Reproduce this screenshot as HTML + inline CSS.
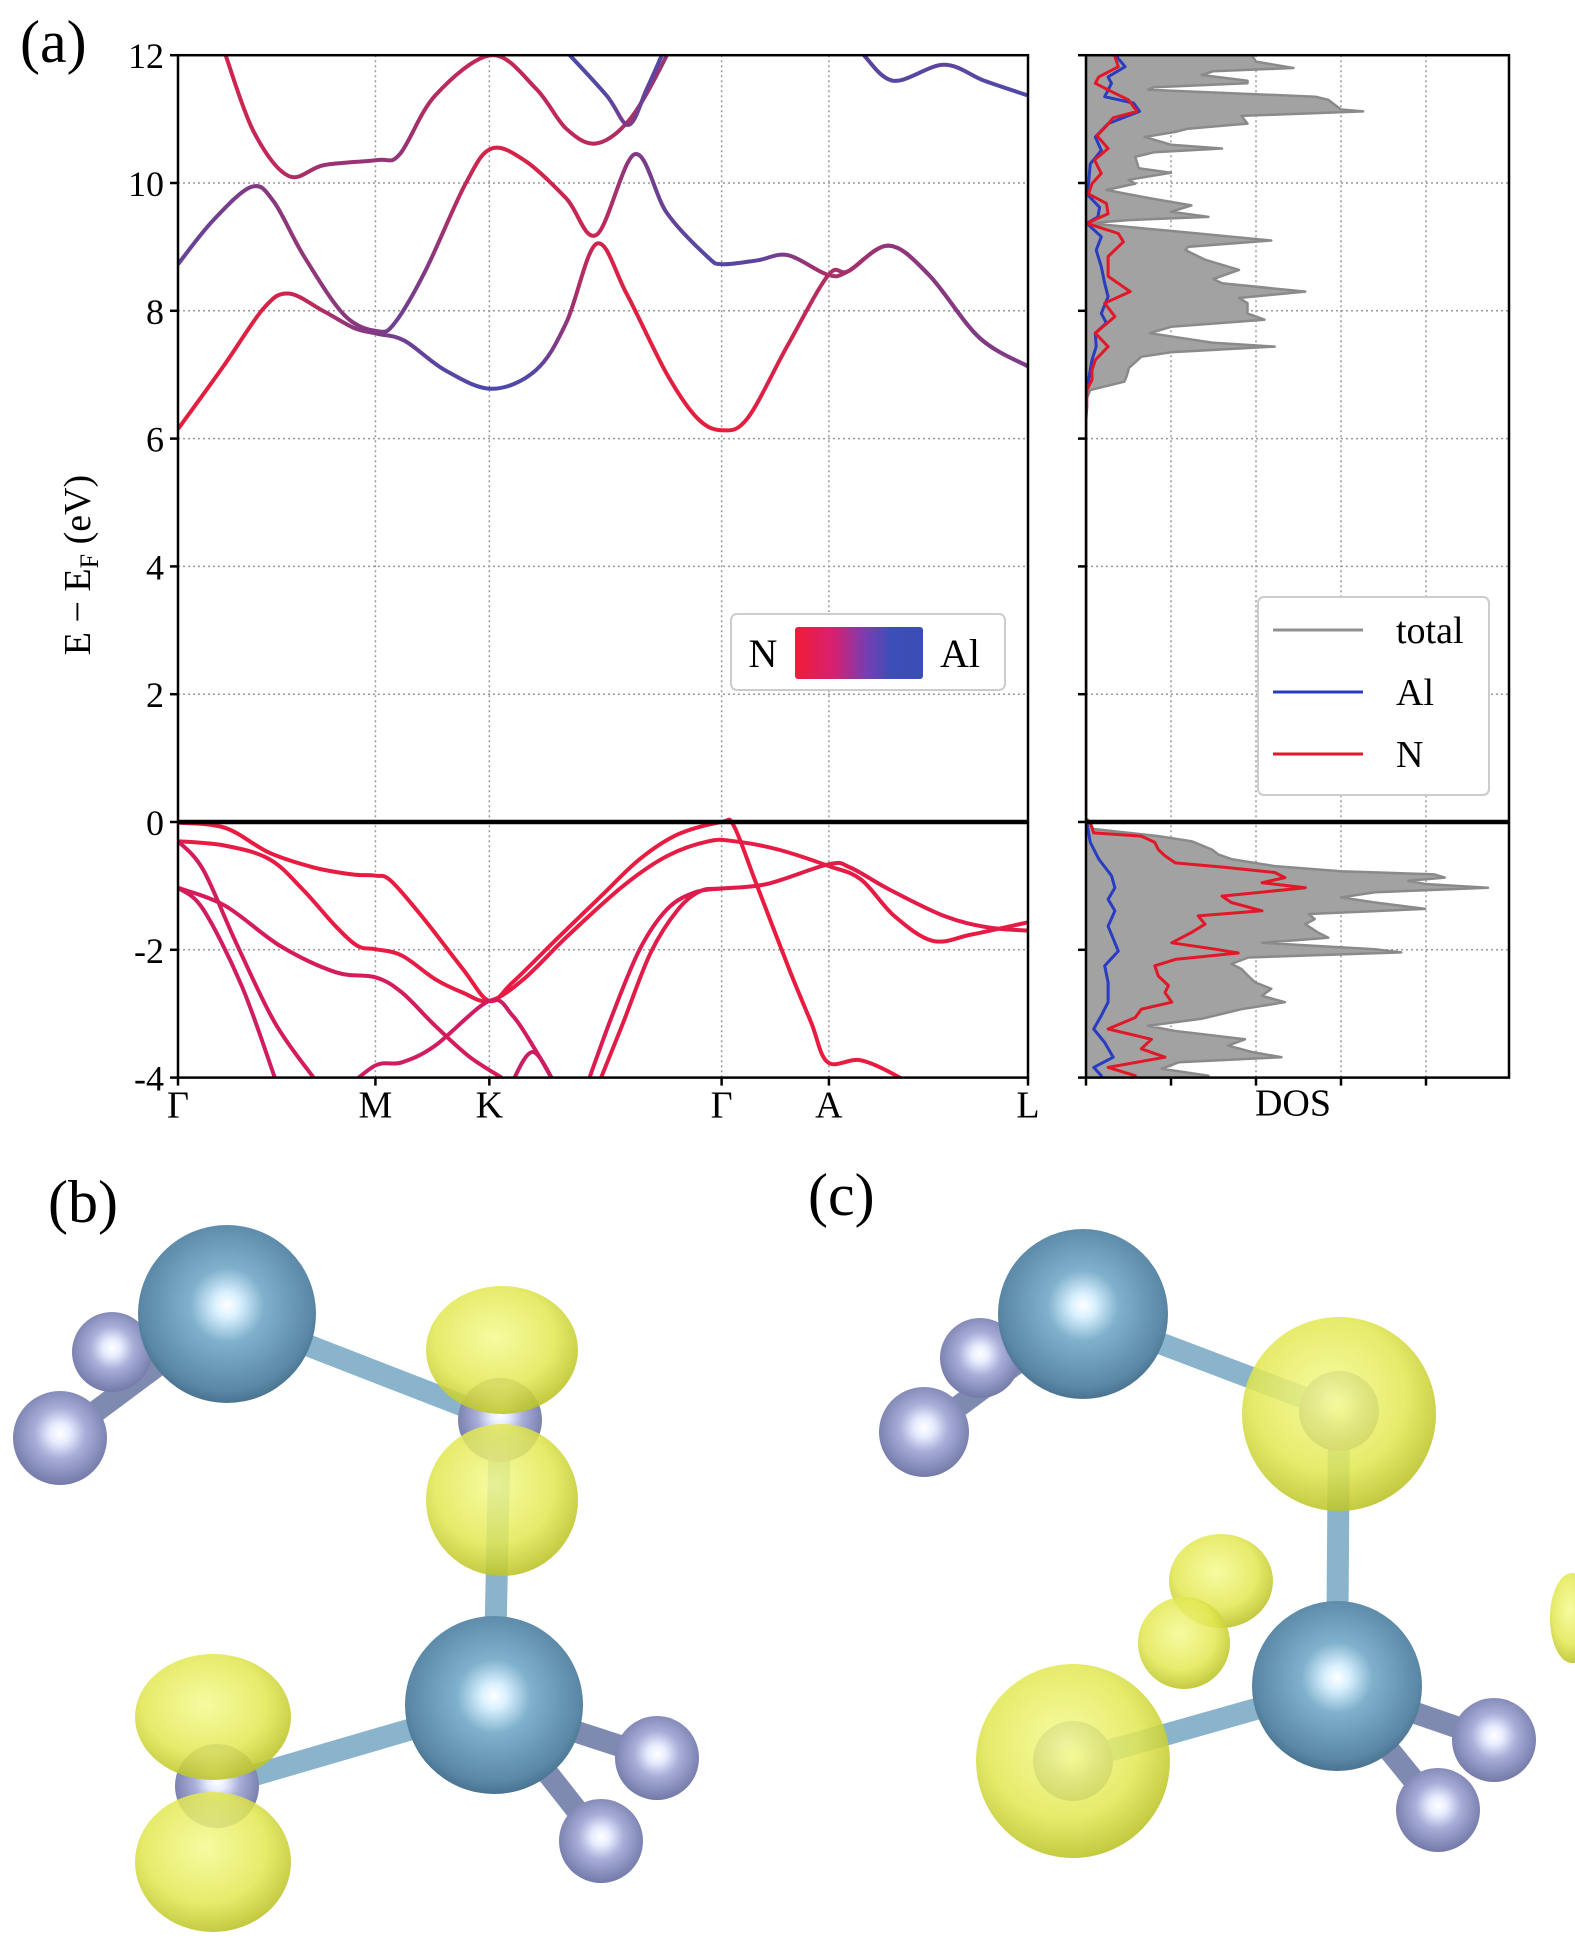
<!DOCTYPE html>
<html><head><meta charset="utf-8"><style>
html,body{margin:0;padding:0;background:#fff;}
svg{display:block;font-family:"Liberation Serif",serif;}
</style></head><body>
<svg id="fig" width="1575" height="1948" viewBox="0 0 1575 1948" xmlns="http://www.w3.org/2000/svg">
<defs>
 <linearGradient id="legGrad" x1="0" x2="1" y1="0" y2="0">
  <stop offset="0" stop-color="#f01c38"/><stop offset="0.3" stop-color="#d82070"/><stop offset="0.55" stop-color="#7a3cb0"/><stop offset="0.75" stop-color="#3d4fb8"/><stop offset="1" stop-color="#3a4db4"/>
 </linearGradient>
 <clipPath id="bandClip"><rect x="178" y="55" width="850" height="1023"/></clipPath>
 <clipPath id="dosClip"><rect x="1086" y="55" width="423" height="1023"/></clipPath>
 <radialGradient id="alG" cx="0.5" cy="0.45" r="0.6">
  <stop offset="0" stop-color="#ffffff"/><stop offset="0.12" stop-color="#d8f0ff"/><stop offset="0.35" stop-color="#7fb0cc"/><stop offset="0.8" stop-color="#5a88a6"/><stop offset="1" stop-color="#3e6480"/>
 </radialGradient>
 <radialGradient id="nG" cx="0.5" cy="0.45" r="0.6">
  <stop offset="0" stop-color="#ffffff"/><stop offset="0.18" stop-color="#e8ecff"/><stop offset="0.45" stop-color="#a8aed8"/><stop offset="1" stop-color="#6a70a0"/>
 </radialGradient>
 <radialGradient id="yG" cx="0.45" cy="0.4" r="0.65">
  <stop offset="0" stop-color="#f6fa90" stop-opacity="0.85"/><stop offset="0.6" stop-color="#e2e852" stop-opacity="0.85"/><stop offset="1" stop-color="#b4bc20" stop-opacity="0.9"/>
 </radialGradient>
 <linearGradient id="bondG" x1="0" x2="0" y1="0" y2="1">
  <stop offset="0" stop-color="#5a8aa8"/><stop offset="0.45" stop-color="#b8d8ec"/><stop offset="1" stop-color="#5a8aa8"/>
 </linearGradient>
</defs>

<rect width="1575" height="1948" fill="#fff"/>
<text x="20" y="62" font-size="60">(a)</text>

<g id="bandGrid"></g>
<g id="bands" clip-path="url(#bandClip)"></g>
<g id="bandAxes"></g>
<g id="dos"></g>

<text transform="translate(90,565) rotate(-90)" text-anchor="middle" font-size="38">E − E<tspan font-size="26" dy="8">F</tspan><tspan dy="-8"> (eV)</tspan></text>

<g>
 <rect x="731" y="614" width="274" height="76" rx="6" fill="#fff" stroke="#ccc" stroke-width="2"/>
 <text x="763" y="667" font-size="40" text-anchor="middle">N</text>
 <rect x="795" y="627" width="128" height="52" rx="3" fill="url(#legGrad)"/>
 <text x="960" y="667" font-size="40" text-anchor="middle">Al</text>
</g>
<g>
 <rect x="1258" y="597" width="231" height="198" rx="6" fill="#fff" stroke="#ccc" stroke-width="2"/>
 <line x1="1273" x2="1363" y1="630" y2="630" stroke="#909090" stroke-width="3"/>
 <text x="1396" y="643" font-size="38">total</text>
 <line x1="1273" x2="1363" y1="692" y2="692" stroke="#2a3cc0" stroke-width="3"/>
 <text x="1396" y="705" font-size="38">Al</text>
 <line x1="1273" x2="1363" y1="754" y2="754" stroke="#e01828" stroke-width="3"/>
 <text x="1396" y="767" font-size="38">N</text>
</g>

<text x="48" y="1222" font-size="60">(b)</text>
<text x="808" y="1215" font-size="60">(c)</text>

<g>
 <line x1="227" y1="1228" x2="227" y2="1300" stroke="url(#bondG)" stroke-width="22"/>
 <line x1="227" y1="1314" x2="112" y2="1352" stroke="#7f8ab0" stroke-width="22"/>
 <line x1="227" y1="1314" x2="60" y2="1438" stroke="#7f8ab0" stroke-width="22"/>
 <circle cx="112" cy="1352" r="40" fill="url(#nG)"/>
 <line x1="227" y1="1314" x2="500" y2="1420" stroke="#8ab4cc" stroke-width="22"/>
 <line x1="500" y1="1420" x2="494" y2="1705" stroke="#8ab4cc" stroke-width="22"/>
 <line x1="494" y1="1705" x2="217" y2="1786" stroke="#8ab4cc" stroke-width="22"/>
 <line x1="494" y1="1705" x2="657" y2="1758" stroke="#7f8ab0" stroke-width="22"/>
 <line x1="494" y1="1705" x2="601" y2="1841" stroke="#7f8ab0" stroke-width="22"/>
 <circle cx="227" cy="1314" r="89" fill="url(#alG)"/>
 <circle cx="60" cy="1438" r="47" fill="url(#nG)"/>
 <circle cx="494" cy="1705" r="89" fill="url(#alG)"/>
 <circle cx="657" cy="1758" r="42" fill="url(#nG)"/>
 <circle cx="601" cy="1841" r="42" fill="url(#nG)"/>
 <circle cx="500" cy="1420" r="42" fill="url(#nG)"/>
 <circle cx="217" cy="1786" r="42" fill="url(#nG)"/>
 <ellipse cx="502" cy="1350" rx="76" ry="64" fill="url(#yG)"/>
 <ellipse cx="502" cy="1500" rx="76" ry="76" fill="url(#yG)"/>
 <ellipse cx="213" cy="1717" rx="78" ry="63" fill="url(#yG)"/>
 <ellipse cx="213" cy="1862" rx="78" ry="70" fill="url(#yG)"/>
</g>

<g>
 <line x1="1083" y1="1228" x2="1083" y2="1300" stroke="url(#bondG)" stroke-width="22"/>
 <line x1="1083" y1="1314" x2="980" y2="1358" stroke="#7f8ab0" stroke-width="22"/>
 <line x1="1083" y1="1314" x2="924" y2="1432" stroke="#7f8ab0" stroke-width="22"/>
 <circle cx="980" cy="1358" r="40" fill="url(#nG)"/>
 <line x1="1083" y1="1314" x2="1339" y2="1411" stroke="#8ab4cc" stroke-width="22"/>
 <line x1="1339" y1="1411" x2="1337" y2="1686" stroke="#8ab4cc" stroke-width="22"/>
 <line x1="1337" y1="1686" x2="1073" y2="1761" stroke="#8ab4cc" stroke-width="22"/>
 <line x1="1337" y1="1686" x2="1494" y2="1740" stroke="#7f8ab0" stroke-width="22"/>
 <line x1="1337" y1="1686" x2="1438" y2="1810" stroke="#7f8ab0" stroke-width="22"/>
 <circle cx="1083" cy="1314" r="85" fill="url(#alG)"/>
 <circle cx="924" cy="1432" r="45" fill="url(#nG)"/>
 <circle cx="1339" cy="1411" r="40" fill="url(#nG)"/>
 <circle cx="1073" cy="1761" r="40" fill="url(#nG)"/>
 <ellipse cx="1221" cy="1581" rx="52" ry="47" fill="url(#yG)"/>
 <ellipse cx="1184" cy="1643" rx="46" ry="46" fill="url(#yG)"/>
 <circle cx="1337" cy="1686" r="85" fill="url(#alG)"/>
 <circle cx="1494" cy="1740" r="42" fill="url(#nG)"/>
 <circle cx="1438" cy="1810" r="42" fill="url(#nG)"/>
 <circle cx="1339" cy="1414" r="97" fill="url(#yG)"/>
 <circle cx="1073" cy="1761" r="97" fill="url(#yG)"/>
 <ellipse cx="1572" cy="1618" rx="22" ry="45" fill="url(#yG)"/>
</g>

<script>
// ---- Band structure data (k in path units, E in eV, w = Al weight 0..1) ----
const kTickPos = [0, 357, 563, 983, 1177, 1537];
const kTickLabels = ["Γ", "M", "K", "Γ", "A", "L"];
const eTicks = [-4, -2, 0, 2, 4, 6, 8, 10, 12];
const eTickLabels = ["-4", "-2", "0", "2", "4", "6", "8", "10", "12"];

const band1K = [0,82,155,200,264,319,361,410,483,567,647,702,757,811,884,939,984,1030,1103,1176,1212,1285,1358,1449,1537];
const band1E = [6.15,7.13,8.04,8.27,7.99,7.73,7.64,7.53,7.07,6.78,7.07,7.81,9.05,8.27,7.01,6.32,6.13,6.32,7.47,8.56,8.62,9.02,8.56,7.58,7.13];
const band1W = [0.05,0.05,0.1,0.15,0.35,0.55,0.6,0.7,0.85,0.9,0.85,0.5,0.15,0.08,0.05,0.03,0.02,0.05,0.15,0.35,0.4,0.5,0.55,0.6,0.62];
const band2K = [0,64,133,173,228,301,361,392,447,520,567,629,702,757,826,884,957,984,1048,1103,1176,1212,1285,1358,1449,1537];
const band2E = [8.73,9.42,9.94,9.71,8.85,7.93,7.68,7.81,8.62,9.99,10.54,10.34,9.76,9.19,10.45,9.53,8.85,8.73,8.79,8.87,8.56,8.62,9.02,8.56,7.58,7.13];
const band2W = [0.75,0.7,0.6,0.55,0.5,0.55,0.6,0.7,0.6,0.25,0.1,0.12,0.2,0.2,0.6,0.75,0.85,0.85,0.8,0.6,0.35,0.4,0.5,0.55,0.6,0.62];
const band3K = [86,137,200,264,361,401,465,567,647,702,757,820,884,902];
const band3E = [12.0,10.8,10.11,10.28,10.36,10.45,11.37,12.0,11.48,10.85,10.62,11.03,12.0,12.4];
const band3W = [0.15,0.2,0.3,0.45,0.5,0.5,0.3,0.2,0.25,0.25,0.3,0.35,0.5,0.5];
const band4K = [702,775,815,848,875];
const band4E = [12.06,11.37,10.91,11.48,12.0];
const band4W = [0.9,0.85,0.6,0.8,0.85];
const band5K = [1240,1294,1385,1458,1537];
const band5E = [12.0,11.6,11.85,11.6,11.37];
const band5W = [0.8,0.85,0.8,0.85,0.88];

const val1K = [0,85,165,245,315,357,385,445,515,563,605,685,765,835,905,983,1005,1045,1105,1145,1175,1235,1305,1330];
const val1E = [-0.01,-0.09,-0.48,-0.71,-0.82,-0.84,-0.92,-1.52,-2.3,-2.8,-2.51,-1.83,-1.16,-0.58,-0.19,0,-0.06,-0.95,-2.3,-3.14,-3.76,-3.73,-4.0,-4.2];
const val2K = [0,85,165,225,285,325,357,405,465,515,563,625,705,805,885,960,1005,1085,1177,1235,1295,1365,1435,1537];
const val2E = [-0.3,-0.37,-0.58,-1.05,-1.63,-1.94,-1.99,-2.09,-2.46,-2.67,-2.8,-2.46,-1.78,-1.0,-0.53,-0.3,-0.3,-0.43,-0.69,-0.9,-1.47,-1.86,-1.76,-1.57];
const val3K = [765,805,855,905,945,983,1065,1177,1215,1285,1385,1465,1537];
const val3E = [-4.0,-3.14,-2.04,-1.36,-1.08,-1.04,-0.97,-0.66,-0.71,-1.05,-1.47,-1.65,-1.7];
const val4K = [740,785,835,885,935,983];
const val4E = [-4.1,-3.03,-1.99,-1.36,-1.1,-1.04];
const val5K = [0,45,105,175,245];
const val5E = [-0.3,-0.74,-1.89,-3.14,-4.0];
const val6K = [0,45,115,175];
const val6E = [-1.03,-1.36,-2.56,-4.0];
const val7K = [0,85,185,285,357,405,465,525,585];
const val7E = [-1.03,-1.31,-1.94,-2.35,-2.43,-2.67,-3.19,-3.66,-4.0];
const val8K = [300,357,405,465,563,605,645,675];
const val8E = [-4.2,-3.81,-3.76,-3.5,-2.8,-3.03,-3.55,-4.0];
const val9K = [600,642,690];
const val9E = [-4.15,-3.6,-4.25];

// ---- DOS data (E in eV, DOS in arb. units) ----
const dosTotE = [12.3,12,11.9,11.8,11.75,11.69,11.6,11.56,11.5,11.46,11.35,11.3,11.15,11.12,11.05,10.93,10.85,10.8,10.72,10.6,10.54,10.48,10.41,10.23,10.16,10.05,9.99,9.89,9.75,9.65,9.55,9.47,9.42,9.37,9.25,9.1,9.0,8.95,8.8,8.64,8.5,8.43,8.3,8.2,8.12,7.96,7.86,7.75,7.65,7.5,7.44,7.35,7.28,7.1,7.07,6.95,6.89,6.76,6.6,
 0.05,-0.01,-0.11,-0.22,-0.3,-0.43,-0.51,-0.58,-0.69,-0.77,-0.82,-0.87,-0.92,-0.97,-1.03,-1.1,-1.18,-1.26,-1.36,-1.44,-1.52,-1.6,-1.73,-1.81,-1.89,-1.99,-2.04,-2.12,-2.22,-2.3,-2.41,-2.51,-2.61,-2.72,-2.82,-2.93,-3.08,-3.19,-3.27,-3.4,-3.5,-3.6,-3.68,-3.76,-3.86,-3.97,-4.2];
const dosTotV = [1.95,1.95,2.0,2.44,1.5,1.36,1.9,1.9,0.8,0.73,2.7,2.85,3.0,3.26,1.83,1.9,1.2,1.05,0.69,1.0,1.6,0.8,0.58,0.62,1.0,0.5,0.58,0.24,0.8,1.24,1.0,1.44,0.5,0.03,1.0,2.18,1.2,1.17,1.4,1.8,1.5,1.6,2.58,1.8,1.9,1.9,2.1,1.0,0.75,1.5,2.22,1.0,0.65,0.5,0.5,0.47,0.45,0.05,0.0,
 0.0,0.01,0.09,0.85,1.24,1.48,1.56,1.71,2.22,3.0,4.1,4.22,3.79,3.99,4.73,3.4,3.0,3.4,3.99,2.62,2.69,2.58,2.73,2.85,2.07,3.4,3.71,1.91,1.71,1.83,1.91,1.99,2.18,2.07,2.34,1.83,1.36,0.73,1.05,1.87,1.67,1.95,2.3,1.09,0.89,1.44,1.44];
const dosNE = [12.3,11.98,11.82,11.66,11.56,11.43,11.3,11.12,11.02,10.89,10.74,10.54,10.36,10.15,9.99,9.83,9.68,9.52,9.37,9.21,9.08,8.85,8.54,8.3,8.12,7.91,7.65,7.44,7.23,7.07,6.92,6.76,6.5,6.3,
 0.05,-0.01,-0.17,-0.22,-0.32,-0.43,-0.53,-0.64,-0.71,-0.79,-0.87,-0.95,-1.03,-1.16,-1.26,-1.39,-1.47,-1.6,-1.73,-1.89,-1.99,-2.05,-2.15,-2.25,-2.41,-2.56,-2.67,-2.82,-2.93,-3.06,-3.24,-3.4,-3.55,-3.68,-3.84,-3.97,-4.2];
const dosNV = [0.34,0.34,0.38,0.15,0.11,0.3,0.5,0.6,0.32,0.24,0.13,0.26,0.1,0.18,0.07,0.03,0.24,0.26,0.01,0.38,0.44,0.26,0.26,0.52,0.22,0.34,0.11,0.26,0.11,0.07,0.07,0.01,0.01,0.0,
 0.0,0.05,0.09,0.65,0.81,0.85,0.93,1.05,1.64,2.22,2.34,2.07,2.58,1.6,1.71,2.07,1.32,1.4,1.24,1.01,1.52,1.79,1.05,0.81,0.85,0.97,0.93,1.01,0.65,0.58,0.26,0.77,0.65,0.93,0.26,0.58,0.58];
const dosAlE = [12.3,11.98,11.82,11.66,11.56,11.35,11.25,11.12,10.93,10.72,10.51,10.3,9.99,9.83,9.62,9.47,9.37,9.16,8.95,8.69,8.43,8.22,7.96,7.81,7.65,7.44,7.23,6.92,6.76,6.5,
 0.05,-0.01,-0.32,-0.58,-0.84,-1.03,-1.21,-1.39,-1.63,-2.02,-2.25,-2.51,-2.82,-3.03,-3.24,-3.45,-3.68,-3.84,-3.97,-4.2];
const dosAlV = [0.36,0.36,0.46,0.26,0.3,0.22,0.56,0.63,0.26,0.11,0.18,0.05,0.03,0.01,0.16,0.14,0.01,0.18,0.12,0.18,0.22,0.26,0.18,0.24,0.11,0.12,0.07,0.03,0.01,0.0,
 0.0,0.01,0.05,0.15,0.3,0.34,0.26,0.34,0.26,0.38,0.22,0.26,0.26,0.18,0.09,0.22,0.32,0.09,0.18,0.18];
const dosTicks = [0, 1, 2, 3, 4];

// ---- scales ----
const PL = 178, PR = 1028, PT = 55.2, PB = 1077.6;
const DL = 1086, DR = 1509;
function xK(k){ return PL + k * (PR - PL) / 1537; }
function yE(e){ return PB - (e + 4) * (PB - PT) / 16; }
function xD(v){ return DL + v * 85; }

const NS = "http://www.w3.org/2000/svg";
function mk(tag, attrs, parent){
  const el = document.createElementNS(NS, tag);
  for (const a in attrs) el.setAttribute(a, attrs[a]);
  parent.appendChild(el);
  return el;
}
function smoothPath(pts){
  let d = "M" + pts[0][0].toFixed(1) + "," + pts[0][1].toFixed(1);
  for (let i = 0; i < pts.length - 1; i++){
    const p0 = pts[Math.max(0, i - 1)], p1 = pts[i], p2 = pts[i + 1], p3 = pts[Math.min(pts.length - 1, i + 2)];
    const c1x = p1[0] + (p2[0] - p0[0]) / 6, c1y = p1[1] + (p2[1] - p0[1]) / 6;
    const c2x = p2[0] - (p3[0] - p1[0]) / 6, c2y = p2[1] - (p3[1] - p1[1]) / 6;
    d += "C" + c1x.toFixed(1) + "," + c1y.toFixed(1) + " " + c2x.toFixed(1) + "," + c2y.toFixed(1) + " " + p2[0].toFixed(1) + "," + p2[1].toFixed(1);
  }
  return d;
}
function mixColor(w){
  const r = Math.round(235 + (58 - 235) * w), g = Math.round(28 + (78 - 28) * w), b = Math.round(58 + (182 - 58) * w);
  return "rgb(" + r + "," + g + "," + b + ")";
}

const svg = document.getElementById("fig");
const defs = svg.querySelector("defs");
const grid = document.getElementById("bandGrid");
const bandsG = document.getElementById("bands");
const axes = document.getElementById("bandAxes");
const dosG = document.getElementById("dos");

// grid lines
kTickPos.forEach(function(k, i){
  if (i === 0 || i === kTickPos.length - 1) return;
  const l = mk("line", {x1: xK(k), x2: xK(k), y1: PT, y2: PB, stroke: "#999", "stroke-width": 1.5, "stroke-dasharray": "2,3"}, grid);
  
  
});
eTicks.forEach(function(e){
  if (e === -4 || e === 12 || e === 0) return;
  const l = mk("line", {x1: PL, x2: PR, y1: yE(e), y2: yE(e), stroke: "#999", "stroke-width": 1.5, "stroke-dasharray": "2,3"}, grid);
  
  
  const l2 = mk("line", {x1: DL, x2: DR, y1: yE(e), y2: yE(e), stroke: "#999", "stroke-width": 1.5, "stroke-dasharray": "2,3"}, grid);
  
  
});
dosTicks.forEach(function(v){
  if (v === 0) return;
  const l = mk("line", {x1: xD(v), x2: xD(v), y1: PT, y2: PB, stroke: "#999", "stroke-width": 1.5, "stroke-dasharray": "2,3"}, grid);
  
  
});

// bands
const condBands = [[band1K, band1E, band1W], [band2K, band2E, band2W], [band3K, band3E, band3W], [band4K, band4E, band4W], [band5K, band5E, band5W]];
condBands.forEach(function(b, bi){
  const gid = "bg" + bi;
  const lg = mk("linearGradient", {id: gid, gradientUnits: "userSpaceOnUse", x1: PL, x2: PR, y1: 0, y2: 0}, defs);
  b[0].forEach(function(k, i){
    mk("stop", {offset: Math.max(0, Math.min(1, k / 1537)), "stop-color": mixColor(b[2][i])}, lg);
  });
  const pts = b[0].map(function(k, i){ return [xK(k), yE(b[1][i])]; });
  const p = mk("path", {d: smoothPath(pts), fill: "none", stroke: "url(#" + gid + ")", "stroke-width": 4}, bandsG);
  
  
});
const valBands = [[val1K, val1E], [val2K, val2E], [val3K, val3E], [val4K, val4E], [val5K, val5E], [val6K, val6E], [val7K, val7E], [val8K, val8E], [val9K, val9E]];
const valColors = ["#e81c40", "#e61c44", "#e21c48", "#dc1c50", "#d41c5c", "#d01c60", "#d41c58", "#d01c60", "#cc1c64"];
valBands.forEach(function(b, bi){
  const pts = b[0].map(function(k, i){ return [xK(k), yE(b[1][i])]; });
  const p = mk("path", {d: smoothPath(pts), fill: "none", stroke: valColors[bi], "stroke-width": 4}, bandsG);
  
  
});

// band axes frame, ticks, labels
const fr = mk("rect", {x: PL, y: PT, width: PR - PL, height: PB - PT, fill: "none", stroke: "#000", "stroke-width": 2.5}, axes);


eTicks.forEach(function(e, i){
  mk("line", {x1: PL - 8, x2: PL, y1: yE(e), y2: yE(e), stroke: "#000", "stroke-width": 2.5}, axes);
  const t = mk("text", {x: PL - 14, y: yE(e) + 13, "text-anchor": "end", "font-size": 36}, axes);
  t.textContent = eTickLabels[i];
  
  
});
kTickPos.forEach(function(k, i){
  mk("line", {x1: xK(k), x2: xK(k), y1: PB, y2: PB + 8, stroke: "#000", "stroke-width": 2.5}, axes);
  const t = mk("text", {x: xK(k), y: PB + 40, "text-anchor": "middle", "font-size": 38}, axes);
  t.textContent = kTickLabels[i];
  
  
});

// DOS
function dosPoints(E, V){ return E.map(function(e, i){ return [xD(V[i]), yE(e)]; }); }
const dclip = mk("g", {"clip-path": "url(#dosClip)"}, dosG);
const tp = dosPoints(dosTotE, dosTotV);
let fd = "M" + DL + "," + yE(dosTotE[0]);
tp.forEach(function(p){ fd += "L" + p[0].toFixed(1) + "," + p[1].toFixed(1); });
fd += "L" + DL + "," + yE(dosTotE[dosTotE.length - 1]) + "Z";
const fill = mk("path", {d: fd, fill: "#a2a2a2", stroke: "#8a8a8a", "stroke-width": 2.5, "stroke-linejoin": "round"}, dclip);


function polyline(pts, color, name){
  const l = mk("polyline", {points: pts.map(function(p){ return p[0].toFixed(1) + "," + p[1].toFixed(1); }).join(" "), fill: "none", stroke: color, "stroke-width": 3, "stroke-linejoin": "round"}, dclip);
  
  
}
polyline(dosPoints(dosAlE, dosAlV), "#2a3cc0", "dos-al");
polyline(dosPoints(dosNE, dosNV), "#e01828", "dos-n");
const dfr = mk("rect", {x: DL, y: PT, width: DR - DL, height: PB - PT, fill: "none", stroke: "#000", "stroke-width": 2.5}, dosG);


eTicks.forEach(function(e){
  mk("line", {x1: DL - 8, x2: DL, y1: yE(e), y2: yE(e), stroke: "#000", "stroke-width": 2.5}, dosG);
});
dosTicks.forEach(function(v){
  mk("line", {x1: xD(v), x2: xD(v), y1: PB, y2: PB + 8, stroke: "#000", "stroke-width": 2.5}, dosG);
});
const dl = mk("text", {x: 1293, y: PB + 38, "text-anchor": "middle", "font-size": 38}, dosG);
dl.textContent = "DOS";



// Fermi level lines
[[PL, PR], [DL, DR]].forEach(function(r){
  const l = mk("line", {x1: r[0], x2: r[1], y1: yE(0), y2: yE(0), stroke: "#000", "stroke-width": 4.5}, svg);
  
  
});
</script>
</svg>
</body></html>
